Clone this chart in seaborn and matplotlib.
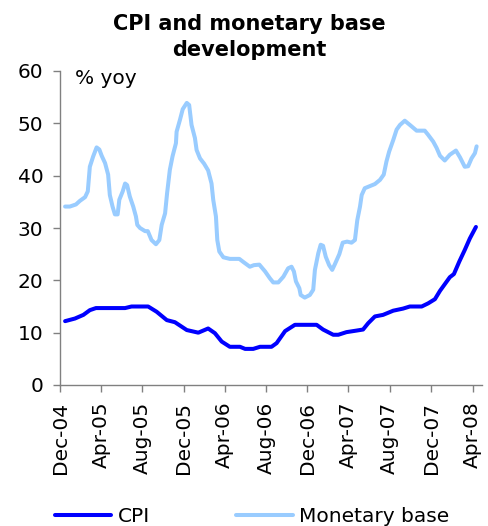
import matplotlib
matplotlib.use("Agg")
import matplotlib.pyplot as plt
import matplotlib.dates as mdates
from matplotlib.lines import Line2D
import pandas as pd
import seaborn as sns

# ---------------- data ----------------
mb_dates = [
    "2004-12-16", "2004-12-30", "2005-01-17", "2005-01-29", "2005-02-13", "2005-02-21",
    "2005-02-27", "2005-03-09", "2005-03-19", "2005-03-27", "2005-04-03", "2005-04-13",
    "2005-04-22", "2005-04-27", "2005-05-05", "2005-05-12", "2005-05-20", "2005-05-25",
    "2005-06-04", "2005-06-11", "2005-06-17", "2005-06-25", "2005-07-05", "2005-07-13",
    "2005-07-17", "2005-07-25", "2005-08-09", "2005-08-17", "2005-08-28", "2005-09-10",
    "2005-09-20", "2005-09-27", "2005-10-07", "2005-10-13", "2005-10-21", "2005-10-29",
    "2005-11-08", "2005-11-10", "2005-11-20", "2005-11-28", "2005-12-10", "2005-12-17",
    "2005-12-24", "2006-01-03", "2006-01-08", "2006-01-18", "2006-01-30", "2006-02-11",
    "2006-02-21", "2006-02-26", "2006-03-06", "2006-03-10", "2006-03-16", "2006-03-28",
    "2006-04-16", "2006-05-14", "2006-05-26", "2006-06-14", "2006-06-26", "2006-07-12",
    "2006-07-29", "2006-08-12", "2006-08-22", "2006-09-06", "2006-09-21", "2006-10-05",
    "2006-10-15", "2006-10-22", "2006-10-28", "2006-11-07", "2006-11-11", "2006-11-23",
    "2006-12-08", "2006-12-18", "2006-12-23", "2007-01-02", "2007-01-09", "2007-01-16",
    "2007-01-24", "2007-02-03", "2007-02-12", "2007-02-20", "2007-03-05", "2007-03-15",
    "2007-03-28", "2007-04-10", "2007-04-20", "2007-04-27", "2007-05-05", "2007-05-10",
    "2007-05-19", "2007-06-03", "2007-06-18", "2007-07-03", "2007-07-14", "2007-07-22",
    "2007-07-30", "2007-08-11", "2007-08-21", "2007-08-31", "2007-09-14", "2007-09-29",
    "2007-10-19", "2007-11-12", "2007-11-22", "2007-12-07", "2007-12-17", "2007-12-27",
    "2008-01-10", "2008-01-25", "2008-02-12", "2008-02-24", "2008-03-09", "2008-03-19",
    "2008-03-29", "2008-04-08", "2008-04-13",
]
mb_values = [
    34.1, 34.1, 34.5, 35.2, 35.9, 37.0,
    41.7, 43.7, 45.4, 45.0, 43.8, 42.4,
    40.2, 36.3, 34.1, 32.6, 32.6, 35.4,
    37.0, 38.5, 38.2, 36.0, 34.1, 32.2,
    30.6, 30.0, 29.4, 29.4, 27.7, 26.9,
    27.7, 30.6, 32.8, 36.7, 41.1, 43.7,
    46.2, 48.4, 50.7, 52.7, 53.9, 53.5,
    49.7, 47.2, 44.9, 43.3, 42.3, 41.0,
    38.5, 35.4, 32.2, 27.7, 25.5, 24.4,
    24.1, 24.1, 23.5, 22.6, 22.9, 23.0,
    21.7, 20.4, 19.6, 19.6, 20.7, 22.3,
    22.6, 21.7, 19.8, 18.5, 17.2, 16.7,
    17.2, 18.2, 22.0, 25.2, 26.8, 26.6,
    24.5, 22.9, 22.0, 23.1, 25.0, 27.2,
    27.4, 27.2, 27.7, 31.5, 34.1, 36.3,
    37.6, 38.0, 38.4, 39.2, 40.2, 42.7,
    44.6, 46.8, 48.8, 49.7, 50.5, 49.7,
    48.6, 48.6, 47.8, 46.5, 45.3, 43.8,
    42.9, 44.0, 44.8, 43.5, 41.7, 41.8,
    43.3, 44.3, 45.6,
]

cpi_dates = [
    "2004-12-16", "2005-01-14", "2005-02-08", "2005-02-27", "2005-03-17", "2005-06-11",
    "2005-06-30", "2005-08-18", "2005-09-12", "2005-10-12", "2005-11-05", "2005-12-10",
    "2006-01-13", "2006-02-11", "2006-03-03", "2006-03-23", "2006-04-16", "2006-05-16",
    "2006-05-31", "2006-06-24", "2006-07-14", "2006-08-17", "2006-09-01", "2006-09-26",
    "2006-10-25", "2006-12-28", "2007-01-16", "2007-02-15", "2007-03-02", "2007-03-26",
    "2007-04-25", "2007-05-14", "2007-05-29", "2007-06-18", "2007-07-12", "2007-08-11",
    "2007-09-09", "2007-09-29", "2007-11-03", "2007-11-22", "2007-12-12", "2007-12-27",
    "2008-01-25", "2008-02-06", "2008-02-22", "2008-03-09", "2008-03-24", "2008-04-11",
]
cpi_values = [
    12.2, 12.7, 13.4, 14.3, 14.7, 14.7,
    15.0, 15.0, 14.0, 12.4, 12.0, 10.5,
    10.0, 10.8, 9.9, 8.3, 7.3, 7.3,
    6.9, 6.9, 7.3, 7.3, 8.0, 10.3,
    11.5, 11.5, 10.6, 9.6, 9.6, 10.1,
    10.4, 10.6, 11.8, 13.1, 13.4, 14.2,
    14.6, 15.0, 15.0, 15.6, 16.4, 18.0,
    20.6, 21.2, 23.6, 25.8, 28.0, 30.2,
]

series_names = ["CPI", "Monetary base"]
series_colors = ["#0000FF", "#99CCFF"]
tick_dates = ["2004-12-01", "2005-04-01", "2005-08-01", "2005-12-01", "2006-04-01",
              "2006-08-01", "2006-12-01", "2007-04-01", "2007-08-01", "2007-12-01",
              "2008-04-01"]
y_ticks = [0, 10, 20, 30, 40, 50, 60]
title_text = "CPI and monetary base\ndevelopment"
unit_text = "% yoy"

# ---------------- build frame ----------------
df = pd.concat([
    pd.DataFrame({"date": pd.to_datetime(cpi_dates), "value": cpi_values, "series": series_names[0]}),
    pd.DataFrame({"date": pd.to_datetime(mb_dates), "value": mb_values, "series": series_names[1]}),
], ignore_index=True)

sns.set_style("white")
plt.rcParams["font.family"] = ["DejaVu Sans"]
plt.rcParams["text.color"] = "black"
plt.rcParams["axes.labelcolor"] = "black"

fig = plt.figure(figsize=(4.89, 5.26), dpi=100)
ax = fig.add_axes([60 / 489, 1 - 385 / 526, (481.7 - 60) / 489, (385 - 71) / 526])

sns.lineplot(data=df, x="date", y="value", hue="series", hue_order=series_names,
             palette=series_colors, linewidth=2.9, errorbar=None, legend=False, ax=ax)

ax.set_xlim(pd.Timestamp("2004-12-01"), pd.Timestamp("2008-04-28"))
ax.set_ylim(0, 60)
ax.set_yticks(y_ticks)
ax.set_xticks(pd.to_datetime(tick_dates))
ax.xaxis.set_major_formatter(mdates.DateFormatter("%b-%y"))
ax.set_xlabel("")
ax.set_ylabel("")

for side in ["top", "right"]:
    ax.spines[side].set_visible(False)
for side in ["left", "bottom"]:
    ax.spines[side].set_color("#808080")
    ax.spines[side].set_linewidth(1.0)

ax.tick_params(axis="y", direction="out", length=5, width=1, color="#808080",
               labelsize=14.5, pad=7, labelcolor="black")
ax.tick_params(axis="x", direction="out", length=5, width=1, color="#808080",
               labelsize=14.5, pad=7, labelrotation=90, labelcolor="black")
ax.tick_params(left=True, bottom=True)

ax.text(0.036, 0.958, unit_text, transform=ax.transAxes, fontsize=14.5,
        ha="left", va="baseline", color="black")

fig.text(249 / 489, 1 - 14 / 526, title_text, ha="center", va="top",
         fontsize=15, fontweight="bold", linespacing=1.38, color="black")

handles = [Line2D([], [], color=c, linewidth=2.9) for c in series_colors]
fig.legend(handles, series_names, loc="center", bbox_to_anchor=(252 / 489, 1 - 517 / 526),
           ncol=2, frameon=False, fontsize=14.5, handlelength=2.8, handletextpad=0.3,
           columnspacing=4.3, borderpad=0, borderaxespad=0, labelcolor="black")

fig.savefig("out.png", dpi=100)
